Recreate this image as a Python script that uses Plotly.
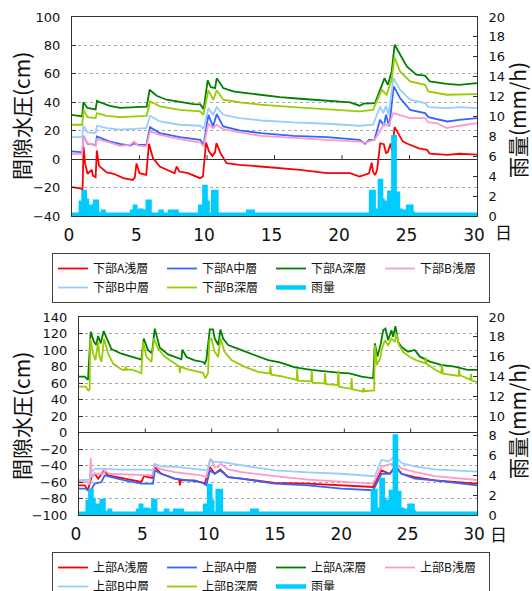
import plotly.graph_objects as go

# ---------------- data (day, value) ----------------
days_range = [0, 30]
x_ticks = [0, 5, 10, 15, 20, 25, 30]
inner_ticks = [5, 10, 15, 20, 25]

# 下部 (top chart)
lowA_shallow = [(0, -19.7), (0.6, -20.5), (0.78, -21.6), (0.86, 8.9), (0.97, -3), (1.15, -10.3), (1.35, -8.5),
                (1.46, -7.5), (1.55, -11.7), (1.75, -12.7), (1.84, 6.1), (2.0, -4.7), (2.57, -9.4), (3.1, -10.3),
                (3.8, -13.4), (4.5, -14.6), (4.65, -13), (4.78, -3.0), (5.0, -9.9), (5.5, -11), (5.7, 10.8),
                (6.0, 0.7), (6.5, -5.2), (7.0, -7.5), (7.6, -9.9), (7.75, -5.2), (7.95, -8.7), (8.6, -9.9),
                (9.48, -13.4), (9.7, -12.2), (9.93, 11.7), (10.15, 5.4), (10.4, 2.3), (10.6, 5), (10.7, 11.3),
                (11.0, 4.2), (11.45, -2.8), (12.4, -4), (13.9, -5.2), (15.4, -6.3), (16.9, -7.5), (18.9, -9.9),
                (20.6, -9.9), (21.3, -12.2), (22.0, -10), (22.2, -2.5), (22.3, -9), (22.46, -11.2), (22.6, -7.5),
                (22.83, 11.1), (23.1, 10.5), (23.26, 4.4), (23.4, 5), (23.6, 11), (23.7, 6), (23.9, 22.5),
                (24.15, 18), (24.5, 12.5), (24.8, 11), (25.7, 7.6), (26.3, 6.5), (26.5, 3.8), (27.8, 3),
                (28.7, 3.8), (30, 3.2)]
lowA_middle = [(0, 5.4), (0.6, 5), (0.75, 3.8), (0.86, 16.4), (1.15, 10.8), (1.75, 10.1), (1.85, 16), (2.8, 12.4),
               (3.55, 10.8), (4.3, 9.5), (4.6, 11), (4.9, 10), (5.5, 10.1), (5.78, 22.5), (6.5, 18.3), (8.0, 15.5),
               (9.5, 13.6), (9.75, 10.1), (10.1, 31.2), (10.45, 23), (10.72, 31.7), (11.2, 23), (12.4, 20.2),
               (14.0, 18.3), (16.4, 16.4), (18.9, 15.5), (21.3, 13.6), (21.7, 10.8), (22.0, 13.6), (22.4, 13.6),
               (22.82, 27.7), (23.1, 23.5), (23.26, 31.2), (23.5, 23), (23.83, 51.2), (24.3, 43), (25.04, 34.7),
               (26.15, 32.4), (26.4, 29.6), (27.8, 26.5), (28.7, 27.7), (30, 28.9)]
lowA_deep = [(0, 31.2), (0.6, 30.5), (0.75, 30), (0.84, 40), (1.14, 36), (1.75, 35), (1.85, 41), (2.07, 40),
             (2.8, 37.5), (3.55, 36), (4.54, 36.6), (5.53, 37), (5.75, 48.8), (6.27, 44.6), (7.0, 41.8), (8.0, 40),
             (9.0, 38.7), (9.5, 38.5), (9.75, 35.2), (10.05, 55.4), (10.27, 50.7), (10.6, 50), (10.72, 57),
             (11.2, 50), (11.95, 47.7), (12.9, 46.5), (13.9, 45.3), (15.4, 43.7), (16.9, 42.5), (18.9, 41),
             (20.6, 40), (21.3, 37.6), (21.6, 39), (22.45, 39.4), (22.8, 48), (23.15, 57), (23.4, 52.3),
             (23.68, 61.7), (23.9, 80.5), (24.3, 73.5), (24.8, 65.3), (25.5, 59.4), (26.15, 58.7), (26.5, 54.7),
             (27.76, 53), (28.7, 52.3), (30, 53.5)]
lowB_shallow = [(0, 3.8), (0.75, 3.8), (0.86, 16), (1.15, 11.3), (1.75, 9.4), (1.85, 14.1), (2.8, 11.7),
                (3.55, 9.4), (4.3, 10), (4.6, 12.4), (4.9, 9.5), (5.5, 8.9), (5.78, 19.5), (6.5, 17.1), (8.0, 14.1),
                (9.5, 11.7), (9.75, 8.9), (10.1, 24.9), (10.45, 21.8), (10.72, 24.2), (11.2, 21.1), (12.4, 18.8),
                (14.0, 16.4), (16.4, 14.8), (18.9, 13.6), (21.3, 12.4), (21.7, 11.5), (22.4, 13.6), (22.82, 19.5),
                (23.1, 24.9), (23.44, 23.5), (23.8, 32.4), (24.3, 31.2), (25.04, 28.9), (26.15, 28.9),
                (26.4, 25.8), (27.0, 25.4), (27.76, 21.8), (28.7, 23.5), (30, 25.4)]
lowB_middle = [(0, 15.5), (0.75, 15.5), (0.86, 23.5), (1.15, 18.8), (1.75, 18.3), (1.85, 23.5), (2.6, 21.8),
               (3.55, 20.7), (5.5, 21.8), (5.78, 30.5), (6.5, 26.5), (8.0, 24.2), (9.5, 23.5), (9.75, 21.1),
               (10.1, 35.9), (10.45, 31.2), (10.72, 36.6), (11.2, 31.2), (12.4, 28.9), (14.0, 27.2),
               (16.4, 25.8), (18.9, 24.9), (21.3, 23.5), (22.3, 24.2), (22.82, 37), (23.05, 32.4),
               (23.26, 37.6), (23.44, 31.2), (23.82, 57), (24.3, 48.8), (25.04, 41.8), (26.15, 39.4),
               (26.4, 36.6), (27.76, 35.9), (28.7, 36.6), (30, 35.9)]
lowB_deep = [(0, 24.2), (0.75, 24.2), (0.86, 34.7), (1.15, 29.6), (1.75, 28.9), (1.85, 32.4), (2.57, 30.5),
             (3.55, 29.6), (5.53, 30.5), (5.78, 40.6), (6.52, 37.1), (8.0, 34.7), (9.48, 33.6), (9.73, 31.2),
             (10.1, 48.4), (10.47, 41.8), (10.72, 48.4), (11.2, 41.8), (12.44, 40), (13.93, 38.3), (16.4, 36.6),
             (18.87, 35.2), (21.3, 33.6), (22.3, 34.7), (22.94, 48.8), (23.3, 45.3), (23.68, 55.9),
             (23.88, 71.8), (24.3, 61.7), (25.04, 54.7), (26.15, 52.3), (26.4, 47.7), (27.76, 45.3), (30, 45.8)]

# 上部 (bottom chart)
upA_shallow = [(0, -64), (0.43, -64), (0.68, -70), (0.94, -54), (1.19, -50), (1.44, -56), (1.89, -46),
               (2.19, -52), (3.45, -56), (4.7, -60), (4.9, -53), (5.5, -55), (5.71, -41.6), (6.2, -50),
               (7.2, -56), (7.55, -57), (7.6, -64), (7.65, -58), (8.7, -58), (9.48, -62), (9.86, -41.6),
               (10.23, -50), (10.66, -44.8), (11.24, -54), (12.25, -56), (14.76, -61), (17.27, -62),
               (19.79, -64), (22.17, -66), (22.8, -46), (23.43, -50), (23.86, -40), (24.31, -50), (25.31, -54),
               (26.82, -58), (30, -62)]
upA_middle = [(0, -68), (0.5, -68), (0.81, -72), (1.19, -62), (1.69, -60), (1.94, -52), (2.44, -54),
              (3.45, -58), (4.7, -62), (5.58, -62), (5.71, -46), (6.2, -50), (7.22, -56), (9.23, -60),
              (9.6, -64), (9.86, -46), (10.23, -50), (10.66, -46), (11.24, -54), (12.25, -56), (14.76, -62),
              (17.27, -64), (19.79, -68), (22.17, -70), (22.8, -50), (23.43, -50), (23.86, -41.6), (24.31, -50),
              (25.31, -56), (26.82, -58), (30, -64)]
upA_deep = [(0, 67.8), (0.43, 67.8), (0.68, 63.8), (0.88, 122.2), (1.13, 110), (1.3, 106), (1.44, 117),
            (1.64, 108), (1.86, 123), (2.19, 110), (2.44, 101), (3.2, 95.5), (3.95, 91.5), (4.7, 88.3),
            (4.88, 113.8), (5.2, 99.8), (5.5, 96), (5.71, 125.9), (6.09, 102.7), (6.71, 94.7), (7.72, 88.7),
            (7.79, 100.4), (8.1, 91.5), (8.73, 87.5), (9.35, 85.5), (9.48, 83.5), (9.6, 88), (9.86, 125),
            (10.1, 125), (10.23, 113.9), (10.5, 106), (10.66, 125), (10.86, 113.9), (11.24, 106), (12.25, 99.8),
            (13.25, 93.8), (14.26, 87.7), (15.14, 85), (16.27, 79), (17.5, 75.8), (18.5, 73.8), (19.5, 72.6),
            (20.4, 71.8), (21.3, 67.8), (22.17, 65.7), (22.3, 108), (22.5, 92), (22.75, 108), (22.93, 124),
            (23.1, 126), (23.3, 112), (23.55, 124), (23.68, 116), (23.85, 128.9), (24.05, 110), (24.3, 104),
            (24.8, 98), (25.3, 100), (25.7, 91.9), (26.45, 85.9), (27.3, 81.9), (28.3, 79.9), (29.3, 75.8),
            (30, 75.8)]
upB_shallow = [(0, -59.9), (0.6, -60), (0.8, -62), (0.89, -31), (0.95, -54), (1.2, -50), (1.8, -50),
               (1.94, -46), (2.3, -50), (5.0, -52), (5.55, -52), (5.66, -39.6), (6.1, -44), (7.2, -48),
               (9.2, -52), (9.6, -54), (9.86, -35.6), (9.92, -31.6), (10.23, -41.6), (10.5, -42), (10.66, -37.6),
               (11.24, -44.8), (12.25, -48), (14.76, -53), (17.27, -57), (19.79, -60), (22.17, -62),
               (22.8, -41.6), (23.43, -38.4), (23.86, -37.6), (24.31, -43.6), (25.31, -47.6), (26.82, -52.8),
               (30, -57.6)]
upB_middle = [(0, -57.9), (0.8, -57), (0.94, -48), (1.2, -44), (2.2, -44), (3, -45), (5.0, -45), (5.58, -46),
              (5.71, -38), (6.2, -41), (7.5, -42), (9.35, -45), (9.7, -46), (9.86, -33.6), (10.23, -35.6),
              (10.66, -35.6), (12.25, -39.6), (14.76, -46), (17.27, -48.4), (19.79, -50), (22.3, -53),
              (22.8, -33), (23.3, -35), (23.86, -29), (24.31, -37), (25.31, -41), (26.82, -44.6), (30, -47.4)]
upB_deep = [(0, 55.7), (0.5, 55.7), (0.7, 50.9), (0.8, 52), (0.85, 113.8), (1.06, 95.8), (1.24, 87.7),
            (1.44, 110), (1.55, 91.7), (1.69, 85.7), (1.89, 113.8), (2.19, 95.8), (2.57, 83.6), (3.2, 76.4),
            (3.45, 75.6), (3.55, 80), (3.6, 76), (3.95, 76.5), (4.45, 73.6), (4.7, 71.6), (4.83, 110),
            (5.08, 91.7), (5.46, 85.7), (5.66, 113.8), (5.96, 101.7), (6.46, 91.7), (7.22, 83.6), (7.55, 80),
            (7.6, 72.3), (7.65, 79.6), (8.22, 76.4), (8.98, 73.6), (9.35, 72.4), (9.53, 65.6), (9.73, 72),
            (9.83, 112), (9.98, 113.8), (10.23, 97.7), (10.5, 91.7), (10.66, 113.8), (10.98, 97.7),
            (11.49, 87.7), (12.5, 79.6), (13.5, 73.6), (14.38, 71.6), (14.42, 81), (14.5, 70), (15.14, 68.5),
            (16.4, 63.8), (16.45, 77.8), (16.5, 63), (17.5, 62), (17.55, 75), (17.6, 60.5), (18.5, 59.5),
            (18.55, 72), (18.6, 58.5), (19.5, 57.5), (19.55, 75), (19.6, 55.5), (20.5, 53), (20.55, 66),
            (20.6, 52.5), (21.4, 49.5), (21.45, 54), (21.5, 50), (22.25, 51), (22.3, 105.7), (22.45, 81.8),
            (22.7, 89.9), (22.85, 102), (23.05, 111.7), (23.3, 105.7), (23.56, 113.8), (23.8, 109.7),
            (23.93, 119.8), (24.13, 105.7), (24.43, 97.6), (24.94, 91.6), (25.44, 87.5), (26.1, 84),
            (26.12, 91), (26.2, 83.5), (26.7, 77.5), (27.3, 72), (27.35, 82), (27.45, 71.4), (28.6, 68.5),
            (28.65, 77), (28.7, 69.4), (29.2, 65.4), (29.5, 64), (29.55, 71), (29.6, 63), (30, 61.3)]

# rainfall (mm/h), step values starting at each day
rain = [(0, 0), (0.6, 1.4), (0.8, 2.5), (1.0, 1.6), (1.15, 1.0), (1.5, 0.4), (1.65, 1.5), (1.9, 0.3), (2.0, 0),
        (2.25, 0.5), (2.4, 0), (4.4, 0.5), (4.6, 1.0), (4.75, 0.5), (5.0, 0.6), (5.2, 0.5), (5.55, 1.5),
        (5.8, 0), (6.5, 0.5), (6.7, 0), (7.2, 0.5), (7.8, 0), (9.45, 1.0), (9.75, 3.0), (9.95, 1.4), (10.1, 0),
        (10.4, 2.5), (10.75, 0), (13.0, 0.5), (13.45, 0), (22.1, 2.5), (22.4, 0.6), (22.75, 3.6), (22.95, 1.6),
        (23.05, 1.4), (23.3, 0.9), (23.45, 2.4), (23.75, 8.0), (23.95, 2.3), (24.2, 0.6), (24.4, 0.5),
        (24.85, 1.0), (25.2, 0.3), (25.3, 0), (30, 0)]

top_series = [("下部A浅層", lowA_shallow, "#FF0000"), ("下部A中層", lowA_middle, "#3366FF"),
              ("下部A深層", lowA_deep, "#008000"), ("下部B浅層", lowB_shallow, "#FF99CC"),
              ("下部B中層", lowB_middle, "#99CCFF"), ("下部B深層", lowB_deep, "#99CC00")]
bot_series = [("上部A浅層", upA_shallow, "#FF0000"), ("上部A中層", upA_middle, "#3366FF"),
              ("上部A深層", upA_deep, "#008000"), ("上部B浅層", upB_shallow, "#FF99CC"),
              ("上部B中層", upB_middle, "#99CCFF"), ("上部B深層", upB_deep, "#99CC00")]
RAIN_COLOR = "#00CCFF"

W, H = 532, 591
fig = go.Figure()


def add_group(series, xa, ya, ya_r, legend):
    for name, pairs, color in series:
        fig.add_trace(go.Scatter(x=[p[0] for p in pairs], y=[p[1] for p in pairs], mode="lines", name=name,
                                 line=dict(color=color, width=1.8), xaxis=xa, yaxis=ya, legend=legend,
                                 hoverinfo="skip"))
    fig.add_trace(go.Scatter(x=days_range, y=[0, 0], mode="lines", line=dict(color=RAIN_COLOR, width=7),
                             xaxis=xa, yaxis=ya_r, showlegend=False, hoverinfo="skip"))
    fig.add_trace(go.Scatter(x=[p[0] for p in rain], y=[p[1] for p in rain], mode="lines", name="雨量",
                             line=dict(color=RAIN_COLOR, width=3, shape="hv"), fill="tozeroy",
                             fillcolor=RAIN_COLOR, xaxis=xa, yaxis=ya_r, showlegend=False, hoverinfo="skip"))
    # legend entry for the rain (thick line symbol)
    fig.add_trace(go.Scatter(x=[None], y=[None], mode="lines", name="雨量",
                             line=dict(color=RAIN_COLOR, width=4.5), xaxis=xa, yaxis=ya_r, legend=legend,
                             hoverinfo="skip"))


add_group(top_series, "x", "y", "y2", "legend")
add_group(bot_series, "x2", "y3", "y4", "legend2")

AX = "#333333"
NUM_FONT = "DejaVu Sans"
JP_FONT = "Noto Sans CJK JP"


def px_x(a, b):
    return [a / W, b / W]


def px_y(top, bottom):
    return [1 - bottom / H, 1 - top / H]


xcommon = dict(range=days_range, tickvals=x_ticks, showline=True, mirror=True, linecolor=AX, linewidth=1,
               ticks="", showgrid=False, zeroline=False, tickfont=dict(family=NUM_FONT, size=17, color="#111"),
               ticklabelstandoff=4, ticklabelshift=-3)
yleft = dict(dtick=20, ticks="inside", ticklen=4, tickcolor=AX, showline=True, linecolor=AX, linewidth=1,
             showgrid=True, gridcolor="#A8A8A8", griddash="dot", gridwidth=1, zeroline=True, zerolinecolor=AX,
             zerolinewidth=1, tickfont=dict(family=NUM_FONT, size=13, color="#111"), ticklabelstandoff=8)
yright = dict(range=[0, 20], dtick=2, ticks="inside", ticklen=4, tickcolor=AX, showline=True, linecolor=AX,
              linewidth=1, showgrid=False, zeroline=False, side="right",
              tickfont=dict(family=NUM_FONT, size=13, color="#111"), ticklabelstandoff=8)

fig.update_layout(
    width=W, height=H, margin=dict(l=0, r=0, t=0, b=0, autoexpand=False),
    paper_bgcolor="white", plot_bgcolor="white", showlegend=True,
    xaxis=dict(domain=px_x(72, 477), anchor="y", **xcommon),
    yaxis=dict(domain=px_y(17, 216), range=[-40, 100], anchor="x", **yleft),
    yaxis2=dict(overlaying="y", anchor="x", **yright),
    xaxis2=dict(domain=px_x(79, 477), anchor="y3", **xcommon),
    yaxis3=dict(domain=px_y(317, 515), range=[-100, 140], anchor="x2", **yleft),
    yaxis4=dict(overlaying="y3", anchor="x2", **yright),
)

legend_common = dict(orientation="h", xanchor="left", yanchor="top", bordercolor="#404040", borderwidth=1,
                     bgcolor="white", font=dict(family=JP_FONT, size=12, color="#111"), entrywidth=64,
                     entrywidthmode="pixels", itemwidth=30, tracegroupgap=0, traceorder="normal")
fig.update_layout(legend=dict(x=52 / W, y=1 - 253 / H, **legend_common),
                  legend2=dict(x=52 / W, y=1 - 552 / H, **legend_common))

# small upward ticks on the zero line
shapes = []
for xr, yr in (("x", "y"), ("x2", "y3")):
    for t in inner_ticks:
        shapes.append(dict(type="line", xref=xr, yref=yr, x0=t, x1=t, ysizemode="pixel", yanchor=0, y0=0, y1=4,
                           line=dict(color=AX, width=1)))
fig.update_layout(shapes=shapes)

ann = []
for yc in (116, 416):
    ann.append(dict(text="間隙水圧(cm)", xref="paper", yref="paper", x=21 / W, y=1 - yc / H, showarrow=False,
                    textangle=-90, font=dict(family=JP_FONT, size=21, color="#111"), xanchor="center",
                    yanchor="middle"))
for yc in (120, 421):
    ann.append(dict(text="雨量(mm/h)", xref="paper", yref="paper", x=517 / W, y=1 - yc / H, showarrow=False,
                    textangle=-90, font=dict(family=JP_FONT, size=21, color="#111"), xanchor="center",
                    yanchor="middle"))
for xc, yc in ((503, 232), (498, 533)):
    ann.append(dict(text="日", xref="paper", yref="paper", x=xc / W, y=1 - yc / H, showarrow=False,
                    font=dict(family=JP_FONT, size=17, color="#111"), xanchor="center", yanchor="middle"))
fig.update_layout(annotations=ann)

fig.write_html("out.html")
